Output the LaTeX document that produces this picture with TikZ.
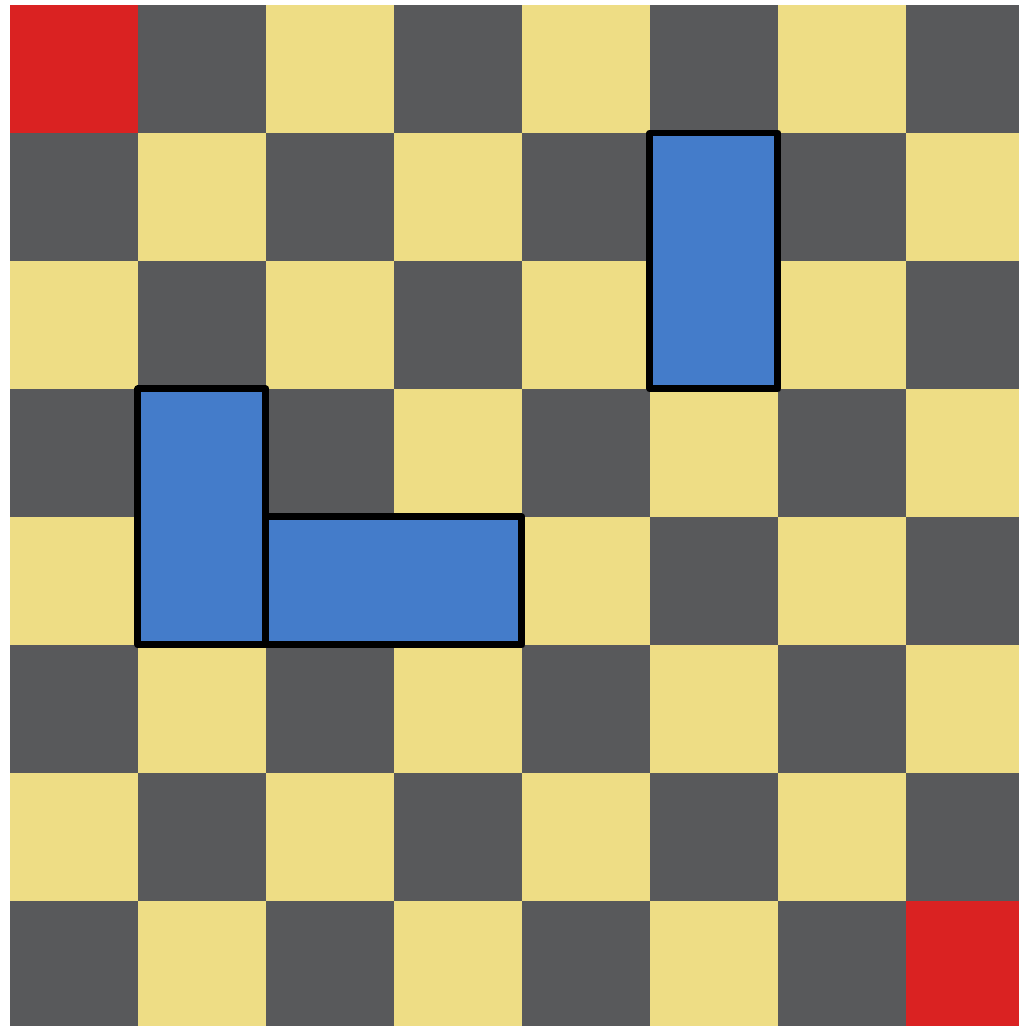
\documentclass[tikz,border=0pt]{standalone}
\usepackage{xcolor}
\usepackage{tikz}
\definecolor{boardlight}{HTML}{EEDD85}
\definecolor{boarddark}{HTML}{58595B}
\definecolor{goalred}{HTML}{DA2222}
\definecolor{pieceblue}{HTML}{447CCA}
\tikzset{
  light/.style={fill=boardlight},
  dark/.style={fill=boarddark},
  goal/.style={fill=goalred},
  piece/.style={fill=pieceblue, draw=black, line width=1.55pt, line join=round}
}

\begin{document}
\begin{tikzpicture}
\useasboundingbox[fill=white] (-0.078,0.023) rectangle (7.883,8.039);
\begin{scope}
\clip (-0.078,0.023) rectangle (7.883,8.039);
% board squares, row r counted from the top
\foreach \r in {0,...,7}{
  \foreach \c in {0,...,7}{
    \pgfmathtruncatemacro{\sqpar}{mod(\r+\c,2)}
    \ifnum\sqpar=0
      \fill[light] (\c,7-\r) rectangle ++(1,1);
    \else
      \fill[dark] (\c,7-\r) rectangle ++(1,1);
    \fi
  }
}
% corner squares
\fill[goal] (0,7) rectangle (1,8);
\fill[goal] (7,0) rectangle (8,1);
% blocks
\draw[piece] (5,5) rectangle (6,7);
\draw[piece] (1,3) rectangle (2,5);
\draw[piece] (2,3) rectangle (4,4);
\end{scope}
\end{tikzpicture}
\end{document}
